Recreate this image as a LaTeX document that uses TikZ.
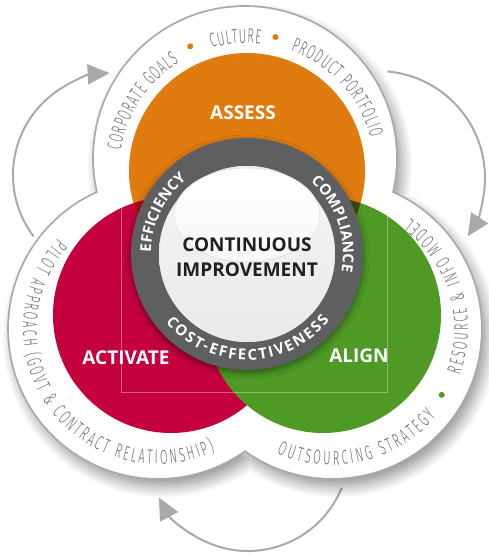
\documentclass[tikz,border=0pt]{standalone}
\usepackage{fontspec}
\setmainfont{Open Sans}
\newfontfamily\outerfont[FakeStretch=0.55]{Fira Sans Light}
\usetikzlibrary{arrows.meta,decorations.text,shadows.blur}

\definecolor{assessorange}{HTML}{E07B0F}
\definecolor{activatered}{HTML}{C4003F}
\definecolor{aligngreen}{HTML}{4E9A25}
\definecolor{overlapred}{HTML}{AA0A16}
\definecolor{overlapgreen}{HTML}{3E4A0D}
\definecolor{ringgray}{HTML}{5E5F61}
\definecolor{linegray}{HTML}{A7A9AC}
\definecolor{textgray}{HTML}{6D6E71}
\definecolor{hubtext}{HTML}{231F20}

\newcommand\ringfont{\bfseries\fontsize{15}{15}\selectfont}
\newcommand\lobefont{\outerfont\fontsize{20}{20}\selectfont}

\tikzset{
  cycle arrow/.style={draw=linegray, line width=2pt, -{Triangle[length=22pt,width=20pt]}},
  big label/.style={text=white, font=\bfseries\fontsize{19}{21}\selectfont},
  ring text/.style={decorate, decoration={text along path, text align=center,
      text color=white, text={#1}}},
  ring fit text/.style={decorate, decoration={text along path, text align=fit to path,
      text color=white, text={#1}}},
  lobe text/.style={decorate, decoration={text along path, text align=fit to path,
      text color=textgray, text={#1}}},
}

\begin{document}
\begin{tikzpicture}[x=1pt,y=1pt]
\useasboundingbox (0,0) rectangle (488,555);
% centres
\coordinate (toplobe) at (245,397);
\coordinate (leftlobe) at (158,226);
\coordinate (rightlobe) at (332,226);
\coordinate (assess) at (247,384);
\coordinate (activate) at (171,240);
\coordinate (align) at (323,240);
\coordinate (hub) at (247,301);
\coordinate (larc) at (115,380);
\coordinate (rarc) at (378,377);
\coordinate (barc) at (248,105);

% cycle arrows
\draw[cycle arrow] ([shift={(217:102)}]larc) arc[start angle=217, end angle=93, radius=102];
\draw[cycle arrow] ([shift={(85:107)}]rarc) arc[start angle=85, end angle=-33, radius=107];
\draw[cycle arrow] ([shift={(-22:101)}]barc) arc[start angle=-22, end angle=-152, radius=101];

% white lobes
\fill[white, blur shadow={shadow xshift=5pt, shadow yshift=-8pt, shadow blur steps=14,
    shadow blur radius=12pt, shadow opacity=45}]
  (toplobe) circle[radius=151] (leftlobe) circle[radius=149] (rightlobe) circle[radius=149];
\draw[linegray, line width=3.6pt]
  (toplobe) circle[radius=151] (leftlobe) circle[radius=149] (rightlobe) circle[radius=149];
\fill[white]
  (toplobe) circle[radius=151] (leftlobe) circle[radius=149] (rightlobe) circle[radius=149];

% coloured circles
\fill[activatered] (activate) circle[radius=118];
\fill[aligngreen] (align) circle[radius=118];
\fill[assessorange] (assess) circle[radius=118];
\begin{scope}
  \clip (assess) circle[radius=118];
  \fill[overlapred] (activate) circle[radius=118];
  \fill[overlapgreen] (align) circle[radius=118];
\end{scope}
\draw[white, opacity=0.35, line width=0.8pt] (121,350) -- (121,163) -- (387,163) -- (387,342);

% hub ring
\fill[ringgray, blur shadow={shadow xshift=0pt, shadow yshift=-3pt, shadow blur radius=6pt,
    shadow opacity=45}] (hub) circle[radius=116];
\shade[top color=gray!8, bottom color=gray!17] (hub) circle[radius=88];
\draw[white!85!gray, line width=1pt] (hub) circle[radius=87.5];
\shade[top color=white, bottom color=gray!6, draw=gray!30, line width=0.5pt]
  (247,340) ellipse[x radius=73, y radius=47];

% labels
\node[big label] (assesslabel) at (243,442) {ASSESS};
\node[big label] (activatelabel) at (126,197) {ACTIVATE};
\node[big label] (alignlabel) at (359,199) {ALIGN};
\node[text=hubtext, align=center, font=\bfseries\fontsize{19}{25}\selectfont]
  (hublabel) at (247,298) {CONTINUOUS\\IMPROVEMENT};

\begin{scope}
\ringfont
\path[ring text={EFFICIENCY}] ([shift={(194:96)}]hub) arc[start angle=194, end angle=114, radius=96];
\path[ring text={COMPLIANCE}] ([shift={(59:96)}]hub) arc[start angle=59, end angle=-21, radius=96];
\path[ring fit text={COST-EFFECTIVENESS}] ([shift={(220:106)}]hub) arc[start angle=220, end angle=321, radius=106];
\end{scope}

% lobe texts
\begin{scope}
\lobefont
\path[lobe text={CORPORATE GOALS}] ([shift={(171:128)}]assess) arc[start angle=171, end angle=122, radius=128];
\path[lobe text={CULTURE}] ([shift={(106:128)}]assess) arc[start angle=106, end angle=84, radius=128];
\path[lobe text={PRODUCT PORTFOLIO}] ([shift={(70:128)}]assess) arc[start angle=70, end angle=15, radius=128];
\path[lobe text={PILOT APPROACH (GOVT {\&} CONTRACT RELATIONSHIP)}]
  ([shift={(138:135)}]leftlobe) arc[start angle=138, end angle=295, radius=135];
\path[lobe text={OUTSOURCING STRATEGY}] ([shift={(246:136)}]rightlobe) arc[start angle=246, end angle=320, radius=136];
\path[lobe text={RESOURCE {\&} INFO MODEL}] ([shift={(340:136)}]rightlobe) arc[start angle=340, end angle=414.6, radius=136];
\end{scope}
\fill[assessorange] ([shift={(114.5:137)}]assess) circle[radius=3];
\fill[assessorange] ([shift={(78:137)}]assess) circle[radius=3];
\fill[aligngreen] ([shift={(329:128)}]rightlobe) circle[radius=3];
\end{tikzpicture}
\end{document}
